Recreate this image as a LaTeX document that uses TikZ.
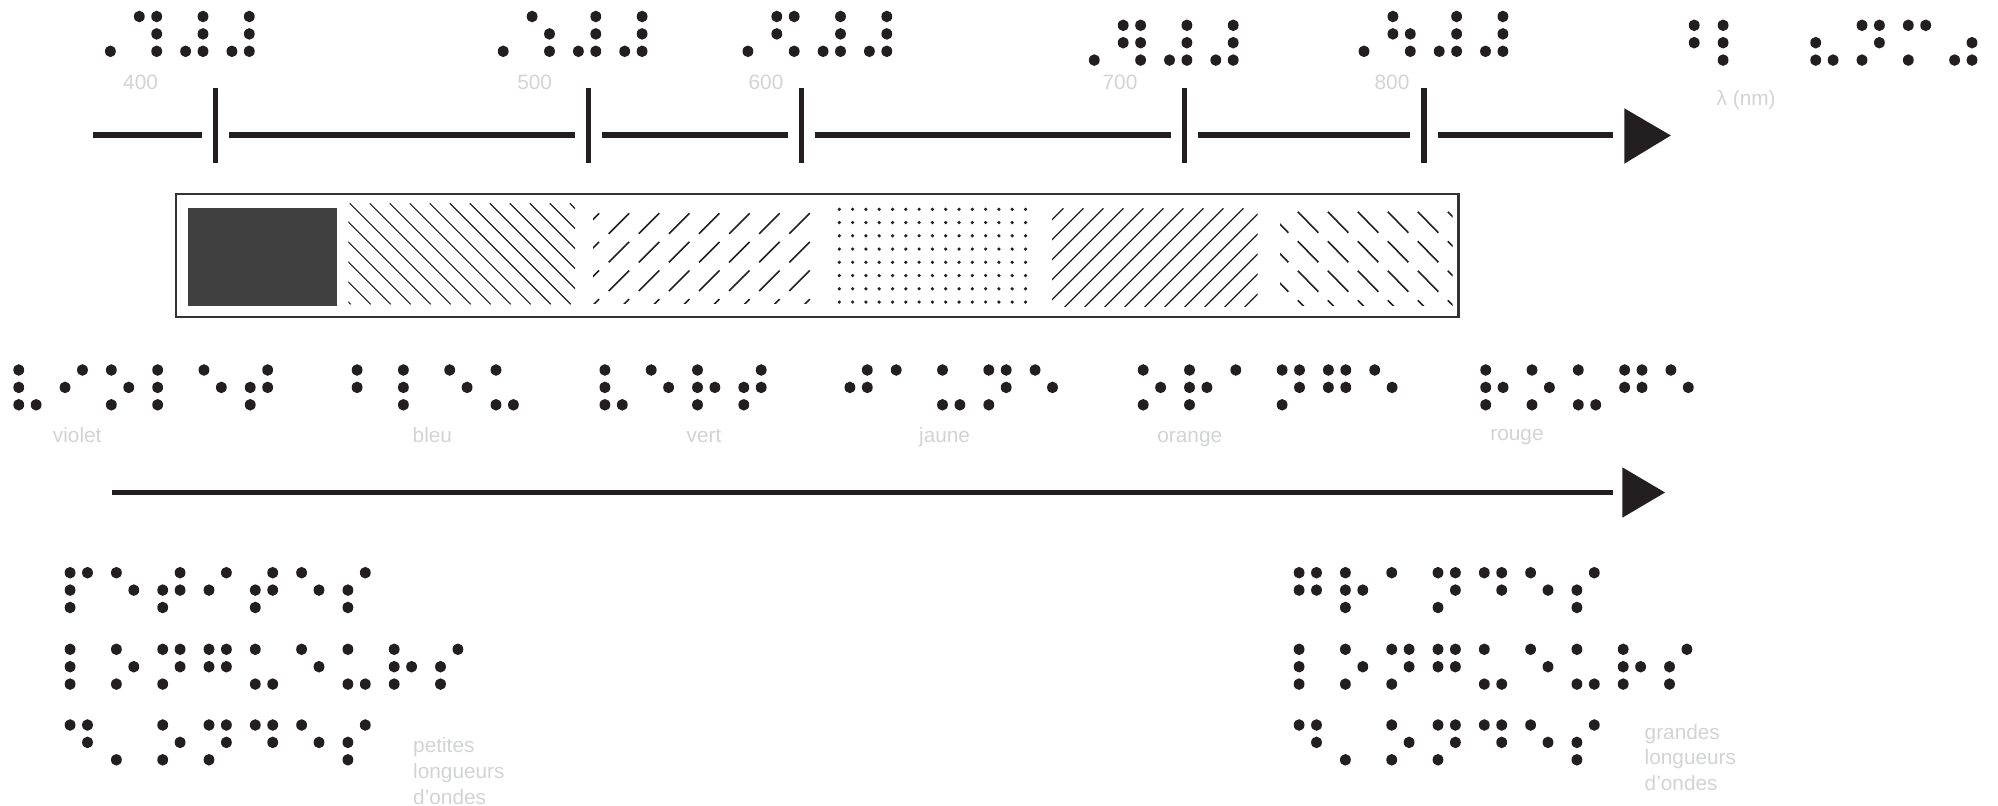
\documentclass[tikz,border=0pt]{standalone}
\usepackage{fontspec}
\setmainfont{Liberation Sans}
\definecolor{ink}{RGB}{35,31,32}
\definecolor{lblc}{RGB}{209,211,212}
\definecolor{violetc}{RGB}{64,64,64}
\definecolor{framec}{RGB}{51,51,51}
% French braille cells (dot numbers)
\def\bxsp{0}\def\bxnum{6}\def\bxgreek{4,5}
\def\bxzero{3,4,5,6}\def\bxfour{1,4,5,6}\def\bxfive{1,5,6}\def\bxsix{1,2,4,6}
\def\bxseven{1,2,4,5,6}\def\bxeight{1,2,5,6}
\def\bxa{1}\def\bxb{1,2}\def\bxd{1,4,5}\def\bxe{1,5}\def\bxg{1,2,4,5}
\def\bxi{2,4}\def\bxj{2,4,5}\def\bxl{1,2,3}\def\bxm{1,3,4}\def\bxn{1,3,4,5}
\def\bxo{1,3,5}\def\bxp{1,2,3,4}\def\bxr{1,2,3,5}\def\bxs{2,3,4}
\def\bxt{2,3,4,5}\def\bxu{1,3,6}\def\bxv{1,2,3,6}
\def\bxap{3}\def\bxlp{2,3,6}\def\bxrp{3,5,6}
\newcommand\brailleword[3]{%
  \foreach[count=\brlk from 0] \brlc in {#3}{%
    \edef\brldots{\csname bx\brlc\endcsname}%
    \foreach \brld in \brldots{%
      \ifnum\brld>0
        \fill[brldot] ({#1+\brlk*46.3+(\brld>3)*17.4},{#2+mod(\brld-1,3)*17.4}) circle[x radius=5.4pt, y radius=5.8pt];
      \fi
    }%
  }%
}
\tikzset{
  brldot/.style={fill=ink},
  axis/.style={draw=ink, line width=5.3pt},
  lbl/.style={text=lblc, font=\fontsize{20.8}{25.7}\selectfont, inner sep=0pt},
  hatchline/.style={draw=ink, line width=1.2pt},
  dashstroke/.style={draw=ink, line width=1.6pt},
  barframe/.style={draw=framec, line width=2.3pt},
  arrowhead/.style={fill=ink},
}
\begin{document}
\begin{tikzpicture}[x=1pt,y=-1pt]
\useasboundingbox (0,0) rectangle (1998,806);

% ---------- top wavelength axis ----------
\coordinate (ax0) at (92.9,135);
\coordinate (t400) at (215.6,135);
\coordinate (t500) at (588.4,135);
\coordinate (t600) at (801.8,135);
\coordinate (t700) at (1184.4,135);
\coordinate (t800) at (1424,135);
\coordinate (ax1) at (1612.8,135);
\draw[axis, shorten >=13.6pt] (ax0) -- (t400);
\foreach \a/\b in {t400/t500,t500/t600,t600/t700,t700/t800}
  \draw[axis, shorten <=13.6pt, shorten >=13.6pt] (\a) -- (\b);
\draw[axis, shorten <=13.6pt] (t800) -- (ax1);
\foreach \t in {t400,t500,t600,t700,t800}
  \draw[axis] ([yshift=47pt]\t) -- ([yshift=-28pt]\t);
\coordinate (tipA) at (1670.8,135.5);
\fill[arrowhead] (1624.3,108.3) -- (tipA) -- (1624.3,163.7) -- cycle;

% tick labels
\node[lbl, anchor=base] (n400) at (140.6,89.5) {400};
\node[lbl, anchor=base] (n500) at (534.7,89.5) {500};
\node[lbl, anchor=base] (n600) at (766,89.5) {600};
\node[lbl, anchor=base] (n700) at (1120,89.5) {700};
\node[lbl, anchor=base] (n800) at (1392,89.5) {800};
\node[lbl, anchor=base west] (lam) at (1716.5,105) {λ (nm)};

% braille numbers
\brailleword{93}{16.5}{num,four,zero,zero}
\brailleword{485.8}{16.5}{num,five,zero,zero}
\brailleword{730.5}{16.5}{num,six,zero,zero}
\brailleword{1076.9}{25.3}{num,seven,zero,zero}
\brailleword{1346.6}{16.5}{num,eight,zero,zero}
\brailleword{1676.8}{25.3}{greek,l,sp,lp,n,m,rp}

% ---------- spectrum bar ----------
\draw[barframe] (175.8,194) rectangle (1458.5,316.7);
\fill[violetc] (188,208) rectangle (337,305.7);
% blue: dense \ hatch
\begin{scope}
  \clip (348.4,203.3) rectangle (575.2,304.3);
  \foreach \k in {-6,...,12}
    \draw[hatchline] (349.7+20*\k,203.3) -- ++(101,101);
\end{scope}
% green: grid of short / strokes
\begin{scope}
  \clip (593,206) rectangle (812,303);
  \foreach \i in {-1,...,6}
    \foreach \j in {0,...,3}
      \draw[dashstroke] (608.7+30.1*\i,233.8+28.6*\j) -- ++(20.5,-20.5);
\end{scope}
% yellow: dots
\foreach \i in {0,...,14}
  \foreach \j in {0,...,7}
    \fill[ink] (839.3+13.3*\i,209.3+13.25*\j) circle[radius=1.8pt];
% orange: dense / hatch
\begin{scope}
  \clip (1052,208.3) rectangle (1257.6,306.7);
  \foreach \k in {-1,...,16}
    \draw[hatchline] (1063.4+20*\k,208.3) -- ++(-99,99);
\end{scope}
% red: grid of short \ strokes
\begin{scope}
  \clip (1280,206) rectangle (1452.7,305);
  \foreach \i in {-1,...,5}
    \foreach \j in {0,...,3}
      \draw[dashstroke] (1297.8+30*\i,211.7+29.5*\j) -- ++(20.5,21);
\end{scope}

% ---------- colour names ----------
\brailleword{18.75}{370}{v,i,o,l,e,t}
\brailleword{357.1}{370}{b,l,e,u}
\brailleword{604.9}{370}{v,e,r,t}
\brailleword{849.9}{370}{j,a,u,n,e}
\brailleword{1143.2}{370}{o,r,a,n,g,e}
\brailleword{1485.7}{370}{r,o,u,g,e}
\node[lbl, anchor=base] (cviolet) at (77.2,442.7) {violet};
\node[lbl, anchor=base] (cbleu) at (432.4,442.7) {bleu};
\node[lbl, anchor=base] (cvert) at (704,442.7) {vert};
\node[lbl, anchor=base] (cjaune) at (944.6,442.7) {jaune};
\node[lbl, anchor=base] (corange) at (1189.8,442.7) {orange};
\node[lbl, anchor=base] (crouge) at (1517,440) {rouge};

% ---------- second arrow ----------
\coordinate (b0) at (111.7,492.7);
\coordinate (b1) at (1613.3,492.7);
\draw[axis] (b0) -- (b1);
\coordinate (tipB) at (1665,492.5);
\fill[arrowhead] (1622.3,467.3) -- (tipB) -- (1622.3,517.7) -- cycle;

% ---------- bottom blocks ----------
\brailleword{70.1}{572.7}{p,e,t,i,t,e,s}
\brailleword{70.1}{649.3}{l,o,n,g,u,e,u,r,s}
\brailleword{70.1}{725}{d,ap,o,n,d,e,s}
\node[lbl, anchor=base west] (sm1) at (413,752.7) {petites};
\node[lbl, anchor=base west] (sm2) at (413,778.4) {longueurs};
\node[lbl, anchor=base west] (sm3) at (413,804.1) {d’ondes};

\brailleword{1299.1}{572.7}{g,r,a,n,d,e,s}
\brailleword{1299.1}{649.3}{l,o,n,g,u,e,u,r,s}
\brailleword{1299.1}{725}{d,ap,o,n,d,e,s}
\node[lbl, anchor=base west] (lg1) at (1644.5,739) {grandes};
\node[lbl, anchor=base west] (lg2) at (1644.5,764.7) {longueurs};
\node[lbl, anchor=base west] (lg3) at (1644.5,790.4) {d’ondes};
\end{tikzpicture}
\end{document}
